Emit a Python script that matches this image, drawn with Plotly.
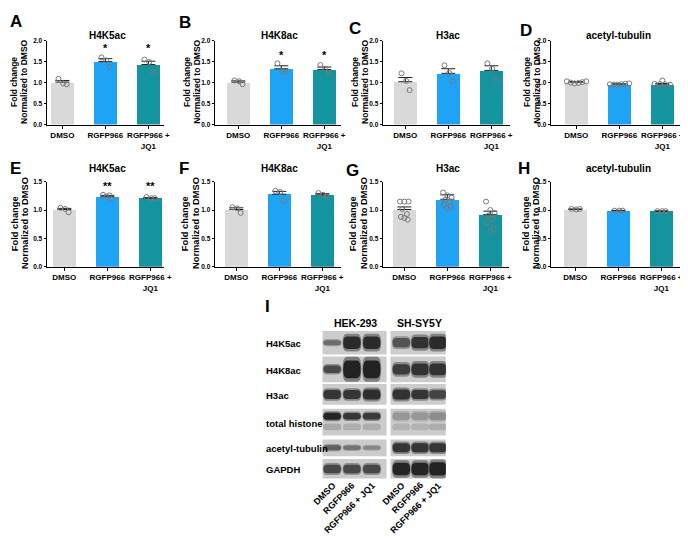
import plotly.graph_objects as go

W, H = 688, 539
FONT = "Arial, Liberation Sans, sans-serif"

# ---------------- data ----------------
groups = ["DMSO", "RGFP966", "RGFP966 + JQ1"]
tick_text = ["DMSO", "RGFP966", "RGFP966 +<br>JQ1"]
bar_colors = ["#d9d9d9", "#1fa3f5", "#14949f"]

A_title = "H4K5ac"
A_mean = [1.01, 1.50, 1.43]
A_sem = [0.04, 0.07, 0.08]
A_pts = [[1.09, 0.98, 0.96], [1.60, 1.53, 1.37], [1.55, 1.49, 1.26]]
A_stars = ["", "*", "*"]

B_title = "H4K8ac"
B_mean = [1.01, 1.33, 1.31]
B_sem = [0.03, 0.07, 0.06]
B_pts = [[1.05, 1.03, 0.96], [1.46, 1.27, 1.25], [1.42, 1.33, 1.22]]
B_stars = ["", "*", "*"]

C_title = "H3ac"
C_mean = [1.02, 1.22, 1.29]
C_sem = [0.10, 0.11, 0.11]
C_pts = [[1.22, 1.04, 0.82], [1.41, 1.23, 1.03], [1.46, 1.33, 1.08]]
C_stars = ["", "", ""]

D_title = "acetyl-tubulin"
D_mean = [1.01, 0.96, 0.96]
D_sem = [0.01, 0.01, 0.02]
D_pts = [[1.03, 1.00, 0.98, 0.99, 1.01, 1.03],
         [0.96, 0.95, 0.95, 0.96, 0.97, 0.98],
         [1.05, 0.97, 0.96, 0.96, 0.95]]
D_stars = ["", "", ""]

E_title = "H4K5ac"
E_mean = [1.01, 1.24, 1.21]
E_sem = [0.02, 0.02, 0.01]
E_pts = [[1.04, 1.02, 0.96], [1.27, 1.26, 1.24, 1.19], [1.23, 1.21, 1.21]]
E_stars = ["", "**", "**"]

F_title = "H4K8ac"
F_mean = [1.01, 1.28, 1.27]
F_sem = [0.03, 0.05, 0.02]
F_pts = [[1.05, 1.03, 0.95], [1.34, 1.32, 1.17], [1.30, 1.27, 1.24]]
F_stars = ["", "*", "*"]

G_title = "H3ac"
G_mean = [1.01, 1.19, 0.92]
G_sem = [0.045, 0.08, 0.06]
G_pts = [[1.15, 1.15, 1.15, 1.02, 0.93, 0.88, 0.83, 0.86],
         [1.31, 1.26, 1.22, 1.18, 1.15, 1.10, 1.06, 1.03],
         [1.15, 1.00, 0.95, 0.90, 0.85, 0.78, 0.67, 0.62]]
G_stars = ["", "", ""]

H_title = "acetyl-tubulin"
H_mean = [1.01, 0.99, 0.98]
H_sem = [0.01, 0.005, 0.005]
H_pts = [[1.02, 1.01, 1.02], [0.99, 0.99, 0.99], [0.98, 0.98, 0.98]]
H_stars = ["", "", ""]

y_ticks_row1 = [0.0, 0.5, 1.0, 1.5, 2.0]
y_ticks_row2 = [0.0, 0.5, 1.0, 1.5]
y_title_lines = ["Fold change", "Normalized to DMSO"]

# western blot (panel I)
blot_cells = ["HEK-293", "SH-SY5Y"]
blot_rows = ["H4K5ac", "H4K8ac", "H3ac", "total histone", "acetyl-tubulin", "GAPDH"]
blot_lanes = ["DMSO", "RGFP966", "RGFP966 + JQ1", "DMSO", "RGFP966", "RGFP966 + JQ1"]
blot_intensity = [
    [0.55, 0.92, 0.92, 0.68, 0.88, 0.92],
    [0.75, 0.97, 0.97, 0.82, 0.88, 0.88],
    [0.86, 0.86, 0.90, 0.88, 0.86, 0.78],
    [0.95, 0.86, 0.84, 0.30, 0.30, 0.36],
    [0.62, 0.50, 0.40, 0.86, 0.86, 0.86],
    [0.76, 0.76, 0.76, 0.95, 0.95, 0.97],
]
blot_thickness = [
    [0.22, 0.55, 0.55, 0.40, 0.50, 0.55],
    [0.30, 0.72, 0.72, 0.42, 0.48, 0.48],
    [0.45, 0.45, 0.50, 0.50, 0.45, 0.42],
    [0.28, 0.26, 0.26, 0.30, 0.30, 0.30],
    [0.32, 0.28, 0.26, 0.55, 0.55, 0.55],
    [0.45, 0.45, 0.45, 0.65, 0.65, 0.70],
]
histone_lower_band = [0.25, 0.22, 0.22, 0.18, 0.18, 0.22]

# ---------------- layout geometry (px) ----------------
UNIT = 43.5
BAR_W = 0.53
ROW_PX = {1: (29, 114), 2: (172, 258)}
TITLE_Y = {1: 24, 2: 159}
YLAB_Y = {1: 71, 2: 214}
panels = [
    dict(L="A", title=A_title, mean=A_mean, sem=A_sem, pts=A_pts, stars=A_stars, row=1, axis=39, bar0=55, end=158,
         letter=(8, 10), ylab=(6, 16), stary=1.89),
    dict(L="B", title=B_title, mean=B_mean, sem=B_sem, pts=B_pts, stars=B_stars, row=1, axis=209, bar0=233, end=337,
         letter=(179, 11), ylab=(181, 191), stary=1.74),
    dict(L="C", title=C_title, mean=C_mean, sem=C_sem, pts=C_pts, stars=C_stars, row=1, axis=379, bar0=402, end=508,
         letter=(351, 17), ylab=(351, 361), stary=1.8),
    dict(L="D", title=D_title, mean=D_mean, sem=D_sem, pts=D_pts, stars=D_stars, row=1, axis=549, bar0=575, end=682,
         letter=(524, 19), ylab=(525, 535), stary=1.8),
    dict(L="E", title=E_title, mean=E_mean, sem=E_sem, pts=E_pts, stars=E_stars, row=2, axis=39, bar0=57, end=158,
         letter=(8, 159), ylab=(7, 17), stary=1.47),
    dict(L="F", title=F_title, mean=F_mean, sem=F_sem, pts=F_pts, stars=F_stars, row=2, axis=209, bar0=231, end=337,
         letter=(178, 159), ylab=(179, 190), stary=1.55),
    dict(L="G", title=G_title, mean=G_mean, sem=G_sem, pts=G_pts, stars=G_stars, row=2, axis=379, bar0=401, end=507,
         letter=(349, 161), ylab=(349, 360), stary=1.5),
    dict(L="H", title=H_title, mean=H_mean, sem=H_sem, pts=H_pts, stars=H_stars, row=2, axis=549, bar0=574, end=682,
         letter=(522, 159), ylab=(524, 534), stary=1.5),
]
JITTER = {
    3: [-0.09, 0.02, 0.10],
    4: [-0.10, 0.05, -0.02, 0.10],
    5: [0.0, -0.18, -0.06, 0.06, 0.18],
    6: [-0.22, -0.13, -0.04, 0.05, 0.14, 0.23],
    8: [-0.10, 0.0, 0.10, -0.05, 0.06, -0.08, 0.08, 0.0],
}

def px_x(p):
    return p / W

def px_y(p):
    return 1 - p / H

fig = go.Figure()
annotations = []
layout_axes = {}

for i, p in enumerate(panels):
    n = i + 1
    xa = "x" if n == 1 else f"x{n}"
    ya = "y" if n == 1 else f"y{n}"
    top, bot = ROW_PX[p["row"]]
    ymax = 2.0 if p["row"] == 1 else 1.5
    yticks = y_ticks_row1 if p["row"] == 1 else y_ticks_row2

    fig.add_trace(go.Bar(
        x=[0, 1, 2], y=p["mean"], width=BAR_W, marker=dict(color=bar_colors, line=dict(width=0)),
        xaxis=xa, yaxis=ya, showlegend=False, hoverinfo="skip"))
    fig.add_trace(go.Scatter(
        x=[0, 1, 2], y=p["mean"], mode="markers", marker=dict(size=1, color="rgba(0,0,0,0)"),
        error_y=dict(type="data", array=p["sem"], arrayminus=[0, 0, 0], symmetric=False,
                     color="#222222", thickness=1, width=7),
        xaxis=xa, yaxis=ya, showlegend=False, hoverinfo="skip"))
    px_, py_ = [], []
    for g, vals in enumerate(p["pts"]):
        jit = JITTER[len(vals)]
        for k, v in enumerate(vals):
            px_.append(g + jit[k])
            py_.append(v)
    fig.add_trace(go.Scatter(
        x=px_, y=py_, mode="markers",
        marker=dict(symbol="circle-open", size=5, color="#7a7a7a", line=dict(width=1)),
        xaxis=xa, yaxis=ya, showlegend=False, hoverinfo="skip", cliponaxis=False))

    xr = [(p["axis"] - p["bar0"]) / UNIT, (p["end"] - p["bar0"]) / UNIT]
    layout_axes["xaxis" if n == 1 else f"xaxis{n}"] = dict(
        domain=[px_x(p["axis"]), px_x(p["end"])], range=xr, anchor=ya,
        showline=True, linecolor="#000", linewidth=1, ticks="outside", ticklen=3, tickcolor="#000",
        tickvals=[0, 1, 2], ticktext=tick_text, showgrid=False, zeroline=False,
        tickfont=dict(family=FONT, size=8, color="#000", weight="bold"), fixedrange=True)
    layout_axes["yaxis" if n == 1 else f"yaxis{n}"] = dict(
        domain=[px_y(bot), px_y(top)], range=[0, ymax], anchor=xa,
        showline=True, linecolor="#000", linewidth=1, ticks="outside", ticklen=2, tickcolor="#000",
        tickvals=yticks, tickformat=".1f", showgrid=False, zeroline=False,
        tickfont=dict(family=FONT, size=6.5, color="#000", weight="bold"), fixedrange=True)

    # title
    annotations.append(dict(
        text=p["title"], xref="paper", yref="paper",
        x=px_x((p["axis"] + p["end"]) / 2 + 2), y=px_y(TITLE_Y[p["row"]]),
        xanchor="center", yanchor="middle", showarrow=False,
        font=dict(family=FONT, size=10, color="#000", weight="bold")))
    # panel letter
    annotations.append(dict(
        text=p["L"], xref="paper", yref="paper", x=px_x(p["letter"][0]), y=px_y(p["letter"][1]),
        xanchor="center", yanchor="middle", showarrow=False,
        font=dict(family=FONT, size=17, color="#000", weight="bold")))
    # y-axis title (two lines, placed separately)
    for k, line in enumerate(y_title_lines):
        annotations.append(dict(
            text=line, xref="paper", yref="paper",
            x=px_x(p["ylab"][k]), y=px_y(YLAB_Y[p["row"]]), textangle=-90,
            xanchor="center", yanchor="middle", showarrow=False,
            font=dict(family=FONT, size=8.5 if p["row"] == 1 else 9.3, color="#000", weight="bold")))
    # significance stars
    for g, s in enumerate(p["stars"]):
        if s:
            annotations.append(dict(
                text=s, xref=xa, yref=ya, x=g, y=p["stary"], yshift=-3,
                xanchor="center", yanchor="middle", showarrow=False,
                font=dict(family=FONT, size=11, color="#000", weight="bold")))

# ---------------- western blot (panel I) ----------------
BLOT_X = (318, 443)
BLOT_Y = (323, 473)
LANE_POS = [0, 1, 2, 3.5, 4.45, 5.35]
LANE_HALF = 0.46
COL_BOX = [(-0.5, 2.75), (2.95, 5.75)]
ROW_TOP = [323, 349, 377, 402, 433, 453]
ROW_BOT = [347, 375, 398, 429, 450, 473]
BAND_FRAC = [0.5, 0.5, 0.5, 0.28, 0.5, 0.5]
BG = 204

layout_axes["xaxis9"] = dict(domain=[px_x(BLOT_X[0]), px_x(BLOT_X[1])], range=[-0.5, 5.75],
                             visible=False, anchor="y9", fixedrange=True)
layout_axes["yaxis9"] = dict(domain=[px_y(BLOT_Y[1]), px_y(BLOT_Y[0])], range=[BLOT_Y[1], BLOT_Y[0]],
                             visible=False, anchor="x9", fixedrange=True)
fig.add_trace(go.Scatter(x=[0], y=[400], mode="markers", marker=dict(size=1, color="rgba(0,0,0,0)"),
                         xaxis="x9", yaxis="y9", showlegend=False, hoverinfo="skip"))

def gray(level):
    v = int(max(0, min(255, level)))
    return f"rgb({v},{v},{v})"

def pill(xc, yc, hw, hh):
    """rounded band outline in data coordinates"""
    rx = hw * 0.45
    x0, x1, y0, y1 = xc - hw, xc + hw, yc - hh, yc + hh
    return (f"M {x0 + rx},{y0} L {x1 - rx},{y0} Q {x1},{y0} {x1},{yc} "
            f"Q {x1},{y1} {x1 - rx},{y1} L {x0 + rx},{y1} Q {x0},{y1} {x0},{yc} "
            f"Q {x0},{y0} {x0 + rx},{y0} Z")

shapes = []
for r in range(len(blot_rows)):
    for c0, c1 in COL_BOX:
        shapes.append(dict(type="rect", xref="x9", yref="y9", x0=c0, x1=c1,
                           y0=ROW_TOP[r], y1=ROW_BOT[r], fillcolor=gray(BG), line=dict(width=0)))
for r in range(len(blot_rows)):
    rh = ROW_BOT[r] - ROW_TOP[r]
    yc = ROW_TOP[r] + rh * BAND_FRAC[r]
    for l in range(6):
        I = blot_intensity[r][l]
        th = blot_thickness[r][l] * rh
        xc = LANE_POS[l]
        shapes.append(dict(type="path", xref="x9", yref="y9",
                           path=pill(xc, yc, LANE_HALF * 1.04, th * 0.68),
                           fillcolor=gray(BG - 80 * I), line=dict(width=0)))
        shapes.append(dict(type="path", xref="x9", yref="y9",
                           path=pill(xc, yc, LANE_HALF * 0.96, th * 0.48),
                           fillcolor=gray(BG - 175 * I), line=dict(width=0)))
    if blot_rows[r] == "total histone":
        yl = ROW_TOP[r] + rh * 0.68
        for l in range(6):
            I = histone_lower_band[l]
            xc = LANE_POS[l]
            shapes.append(dict(type="path", xref="x9", yref="y9",
                               path=pill(xc, yl, LANE_HALF, rh * 0.13),
                               fillcolor=gray(BG - 140 * I), line=dict(width=0)))

# row labels
for r, name in enumerate(blot_rows):
    annotations.append(dict(text=name, xref="paper", yref="paper", x=px_x(259),
                            y=px_y((ROW_TOP[r] + ROW_BOT[r]) / 2 + 1),
                            xanchor="left", yanchor="middle", showarrow=False,
                            font=dict(family=FONT, size=9.5, color="#000", weight="bold")))
# column headers
for c, name in enumerate(blot_cells):
    c0, c1 = COL_BOX[c]
    annotations.append(dict(text=name, xref="x9", yref="paper", x=(c0 + c1) / 2 + 0.05, y=px_y(315),
                            xanchor="center", yanchor="middle", showarrow=False,
                            font=dict(family=FONT, size=10.5, color="#000", weight="bold")))
# lane labels
for l, name in enumerate(blot_lanes):
    annotations.append(dict(text=name, xref="x9", yref="paper", x=LANE_POS[l] + 0.4, y=px_y(BLOT_Y[1] - 1),
                            xanchor="right", yanchor="top", textangle=-45, showarrow=False,
                            font=dict(family=FONT, size=9, color="#000", weight="bold")))
# panel letter I
annotations.append(dict(text="I", xref="paper", yref="paper", x=px_x(263), y=px_y(298),
                        xanchor="center", yanchor="middle", showarrow=False,
                        font=dict(family=FONT, size=17, color="#000", weight="bold")))

fig.update_layout(
    width=W, height=H, margin=dict(l=0, r=0, t=0, b=0),
    paper_bgcolor="white", plot_bgcolor="white",
    font=dict(family=FONT, color="#000"),
    showlegend=False, bargap=0,
    annotations=annotations, shapes=shapes,
    **layout_axes,
)

fig.write_html("out.html", config={"displayModeBar": False})
